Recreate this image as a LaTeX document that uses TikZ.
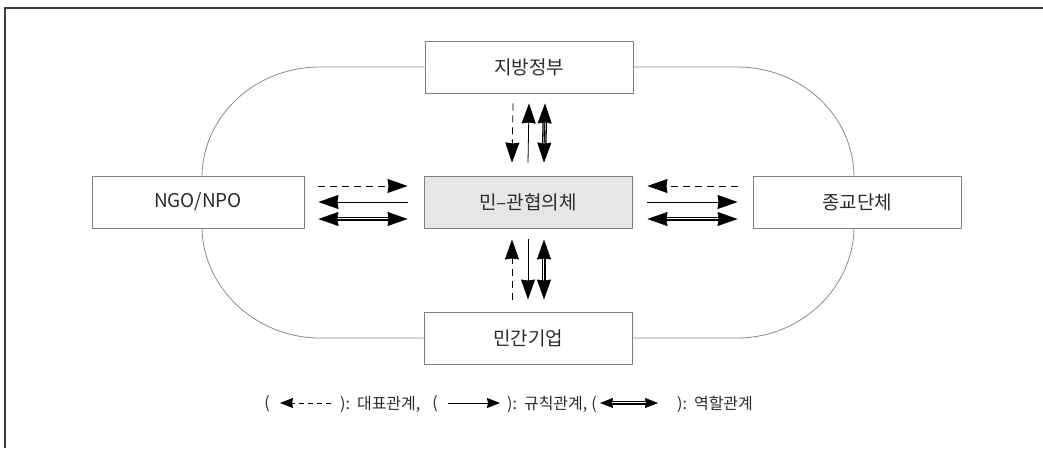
\documentclass[tikz,border=0pt]{standalone}
\usepackage{fontspec}
\setmainfont{Noto Sans CJK KR}
\usetikzlibrary{arrows.meta,calc}
\definecolor{boxgray}{HTML}{7F7F7F}
\definecolor{hubfill}{HTML}{E6E6E6}
\definecolor{framegray}{HTML}{3C3C3C}
\definecolor{arcgray}{HTML}{8A8A8A}
\definecolor{txt}{HTML}{2B2B2B}
% double arrow: #1 from, #2 to, #3 tip length, #4 tip width, #5 rail width, #6 rail gap
\newcommand\dblarrow[6]{%
  \draw[line width=#5, double=white, double distance=#6]
    ($(#1)!#3*0.5!(#2)$) -- ($(#2)!#3*0.5!(#1)$);
  \draw[line width=0.6pt, -{Stealth[length=#3,width=#4,inset=1pt]}] ($(#2)!#3!(#1)$) -- (#1);
  \draw[line width=0.6pt, -{Stealth[length=#3,width=#4,inset=1pt]}] ($(#1)!#3!(#2)$) -- (#2);
}
\begin{document}
\begin{tikzpicture}[x=1pt,y=-1pt,
  box/.style={draw=boxgray, line width=0.9pt, minimum width=208pt, minimum height=52pt, inner sep=0pt, text=txt, font=\fontsize{19}{22}\selectfont},
  rep/.style={line width=0.8pt, dash pattern=on 7pt off 5pt, -{Stealth[length=20pt,width=14pt,inset=1pt]}},
  rule/.style={line width=0.8pt, -{Stealth[length=20pt,width=14pt,inset=1pt]}},
  srep/.style={line width=0.8pt, dash pattern=on 5pt off 4pt, -{Stealth[length=13pt,width=10pt,inset=1pt]}},
  srule/.style={line width=0.8pt, -{Stealth[length=13pt,width=10pt,inset=1pt]}},
  leg/.style={text=txt, inner sep=0pt, font=\fontsize{16}{19}\selectfont},
  link/.style={draw=arcgray, line width=0.8pt}
]
\useasboundingbox (0,0) rectangle (1043,448);
% frame
\draw[framegray, line width=2pt] (5,448) -- (5,8) -- (1043,8);

% nodes
\node[box] (gov) at (529,67) {지방정부};
\node[box, minimum width=212pt] (ngo) at (198,202) {NGO/NPO};
\node[box, fill=hubfill] (hub) at (528,202) {민–관협의체};
\node[box] (rel) at (857,202) {종교단체};
\node[box] (biz) at (528,338) {민간기업};

% outer links
\draw[link] (gov.west) -- (320,67) .. controls (255,67) and (203,116) .. ($(ngo.north)+(4,0)$);
\draw[link] (gov.east) -- (737,67) .. controls (802,67) and (853,116) .. ($(rel.north)+(-3,0)$);
\draw[link] (biz.west) -- (320,338) .. controls (255,338) and (203,287) .. ($(ngo.south)+(4,0)$);
\draw[link] (biz.east) -- (737,338) .. controls (802,338) and (853,287) .. ($(rel.south)+(-3,0)$);

% role arrow end points
\coordinate (lA) at ($(ngo.east)+(14,17)$);
\coordinate (lB) at ($(hub.west)+(-16,17)$);
\coordinate (rA) at ($(hub.east)+(15,17)$);
\coordinate (rB) at ($(rel.west)+(-15,17)$);
\coordinate (tA) at ($(gov.south)+(16,10)$);
\coordinate (tB) at ($(hub.north)+(16,-13)$);
\coordinate (bA) at ($(hub.south)+(16,11)$);
\coordinate (bB) at ($(biz.north)+(16,-12)$);

% left group
\draw[rep]  ($(ngo.east)+(14,-16)$) -- ($(hub.west)+(-16,-16)$);
\draw[rule] ($(hub.west)+(-16,0)$) -- ($(ngo.east)+(14,0)$);
\dblarrow{lA}{lB}{20pt}{14pt}{1.3pt}{1.9pt}

% right group
\draw[rep]  ($(rel.west)+(-15,-16)$) -- ($(hub.east)+(15,-16)$);
\draw[rule] ($(hub.east)+(15,0)$) -- ($(rel.west)+(-15,0)$);
\dblarrow{rA}{rB}{20pt}{14pt}{1.3pt}{1.9pt}

% top group
\draw[rep]  ($(gov.south)+(-16,10)$) -- ($(hub.north)+(-16,-13)$);
\draw[rule] ($(hub.north)+(0,-13)$) -- ($(gov.south)+(0,10)$);
\dblarrow{tA}{tB}{20pt}{14pt}{1.3pt}{1.9pt}

% bottom group
\draw[rep]  ($(biz.north)+(-16,-12)$) -- ($(hub.south)+(-16,11)$);
\draw[rule] ($(hub.south)+(0,11)$) -- ($(biz.north)+(0,-12)$);
\dblarrow{bA}{bB}{20pt}{14pt}{1.3pt}{1.9pt}

% legend
\node[leg] (p1) at (267,404) {(};
\node[leg, anchor=west] (t1) at (340,404) {):\hspace{7pt}대표관계,};
\node[leg] (p2) at (435,404) {(};
\node[leg, anchor=west] (t2) at (507,404) {):\hspace{7pt}규칙관계,\hspace{4pt}(};
\node[leg, anchor=west] (t3) at (677,404) {):\hspace{7pt}역할관계};
\coordinate (a1s) at (331,403);
\coordinate (a1e) at (280,403);
\coordinate (a2s) at (448,403);
\coordinate (a2e) at (500,403);
\coordinate (a3s) at (600,403);
\coordinate (a3e) at (658,403);
\draw[srep] (a1s) -- (a1e);
\draw[srule] (a2s) -- (a2e);
\dblarrow{a3s}{a3e}{13pt}{10pt}{1.0pt}{1.5pt}
\end{tikzpicture}
\end{document}
